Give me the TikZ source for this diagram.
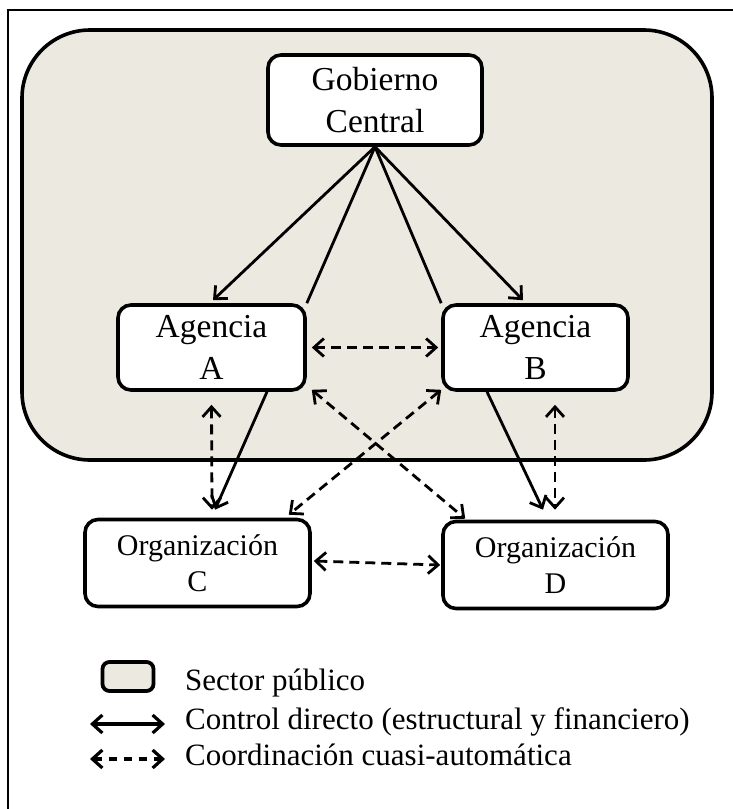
\documentclass[tikz,border=0pt]{standalone}
\usepackage{fontspec}
\setmainfont{Liberation Serif}
\usetikzlibrary{arrows.meta}
\definecolor{sectorfill}{RGB}{236,233,225}
\begin{document}
\begin{tikzpicture}[x=1pt,y=-1pt,
  unitbox/.style={draw, line width=3.6pt, fill=white, rounded corners=13pt,
    align=center, inner sep=0pt},
  bigtext/.style={font=\fontsize{33.5}{42}\selectfont},
  orgtext/.style={font=\fontsize{30}{36}\selectfont},
  ctrl/.style={line width=2.8pt, -{Straight Barb[length=10pt,width=18pt,line width=2.8pt]}},
  ctrlplain/.style={line width=2.8pt},
  coord/.style={line width=2.8pt, dash pattern=on 10pt off 6pt,
    {Straight Barb[length=10pt,width=18pt,line width=2.8pt]}-{Straight Barb[length=10pt,width=18pt,line width=2.8pt]}},
  legtext/.style={anchor=base west, inner sep=0pt, font=\fontsize{31}{36}\selectfont}
]
\useasboundingbox (0,0) rectangle (733,809);
\fill[white] (0,0) rectangle (733,809);

% page frame (top and left edges)
\draw[line width=2.6pt] (8,809) -- (8,10) -- (733,10);

% public sector area
\node[draw, line width=3.6pt, fill=sectorfill, rounded corners=68pt,
  minimum width=690pt, minimum height=430pt, inner sep=0pt] (sector) at (367,245) {};

% units
\node[unitbox, bigtext, minimum width=214pt, minimum height=90pt] (gob) at (375,100) {Gobierno\\Central};
\node[unitbox, bigtext, minimum width=187pt, minimum height=85pt] (aga) at (211.5,347.5) {Agencia\\A};
\node[unitbox, bigtext, minimum width=185pt, minimum height=85pt] (agb) at (535.5,347.5) {Agencia\\B};
\node[unitbox, orgtext, minimum width=225pt, minimum height=87pt] (orgc) at (197.5,563) {Organización\\C};
\node[unitbox, orgtext, minimum width=225pt, minimum height=87pt] (orgd) at (555.5,565) {Organización\\D};

% direct control
\draw[ctrl] (gob.south) -- ([xshift=1.5pt,yshift=3pt]aga.north);
\draw[ctrl] (gob.south) -- ([xshift=-12.5pt,yshift=3pt]agb.north);
\draw[ctrlplain] (gob.south) -- (aga.north east);
\draw[ctrlplain] (gob.south) -- (agb.north west);
\draw[ctrl] ([xshift=55.5pt]aga.south) -- ([xshift=17.5pt,yshift=8pt]orgc.north);
\draw[ctrl] ([xshift=-48.5pt]agb.south) -- ([xshift=-12.5pt,yshift=10pt]orgd.north);

% quasi-automatic coordination
\draw[coord] ([xshift=5pt]aga.east) -- ([xshift=-3pt]agb.west);
\draw[coord] ([yshift=-13pt]aga.south) -- ([xshift=14.5pt,yshift=8pt]orgc.north);
\draw[coord] ([xshift=19.5pt,yshift=-13pt]agb.south) -- ([xshift=-0.5pt,yshift=10pt]orgd.north);
\draw[coord] ([xshift=5pt,yshift=2pt]aga.south east) -- ([xshift=24pt,yshift=1pt]orgd.north west);
\draw[coord] ([xshift=0pt,yshift=2pt]agb.south west) -- ([xshift=-23pt,yshift=3pt]orgc.north east);
\draw[coord] ([xshift=2pt,yshift=2pt]orgc.east) -- ([xshift=-1pt]orgd.west);

% legend
\node[draw, line width=3.8pt, fill=sectorfill, rounded corners=7pt,
  minimum width=51pt, minimum height=29pt, inner sep=0pt] (legsector) at (128,676.5) {};
\node[legtext] (legsectortext) at (185,690) {Sector público};
\coordinate (legctrlA) at (90,724);
\coordinate (legctrlB) at (165,724);
\draw[line width=3.2pt, {Straight Barb[length=10pt,width=18pt,line width=3.2pt]}-{Straight Barb[length=10pt,width=18pt,line width=3.2pt]}] (legctrlA) -- (legctrlB);
\node[legtext] (legctrltext) at (185,729) {Control directo (estructural y financiero)};
\coordinate (legcoordA) at (90,759);
\coordinate (legcoordB) at (165,759);
\draw[line width=3.6pt, dash pattern=on 8pt off 7pt, {Straight Barb[length=10pt,width=18pt,line width=3.2pt]}-{Straight Barb[length=10pt,width=18pt,line width=3.2pt]}] (legcoordA) -- (legcoordB);
\node[legtext] (legcoordtext) at (185,765) {Coordinación cuasi-automática};
\end{tikzpicture}
\end{document}
